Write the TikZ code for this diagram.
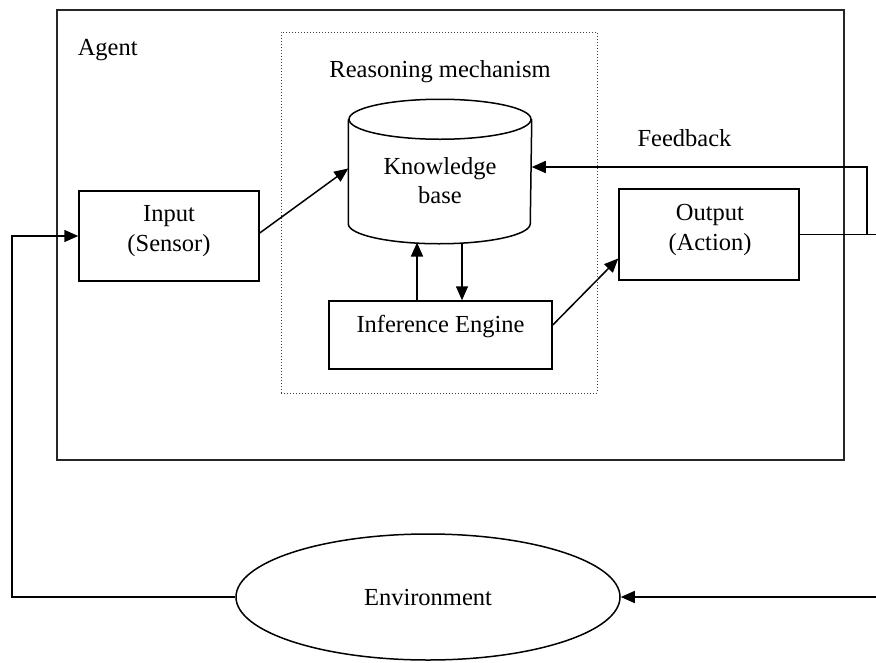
\documentclass[tikz,border=0pt]{standalone}
\usepackage{fontspec}
\setmainfont{Liberation Serif}
\usetikzlibrary{arrows.meta,shapes.geometric}
\begin{document}
\begin{tikzpicture}[x=1pt,y=-1pt,line width=1.5pt,
  >={Triangle[length=14pt,width=12pt]},
  box/.style={draw,rectangle,inner sep=0pt},
  txt/.style={font=\fontsize{24.5}{29.5}\selectfont,align=center,inner sep=0pt},
  frame/.style={draw=black!85,line width=2.6pt,rectangle,inner sep=0pt},
  dotbox/.style={draw=black!75,dotted,line width=1pt,rectangle,inner sep=0pt}]
\useasboundingbox (0,0) rectangle (876,662);

% agent frame and its label
\node[frame,minimum width=787pt,minimum height=450pt] (agent) at (450.5,235) {};
\node[txt,anchor=west] (agentlbl) at (77,50) {Agent};

% reasoning mechanism (dotted boundary)
\node[dotbox,minimum width=316pt,minimum height=361pt] (reason) at (439,212.5) {};
\node[txt] (reasonlbl) at (440,72) {Reasoning mechanism};

% knowledge base drawn as a cylinder around the node body
\node[inner sep=0pt,minimum width=182pt,minimum height=103pt] (kb) at (440,171.5) {};
\draw (kb.north) ellipse [x radius=91pt,y radius=20pt];
\draw (kb.north west) -- (kb.south west)
  arc [start angle=180,end angle=360,x radius=91pt,y radius=20pt] -- (kb.north east);
\node[txt] (kbtext) at (440,180.5) {Knowledge\\base};

% input, output and inference engine
\node[box,minimum width=180pt,minimum height=90pt] (input) at (169,236) {};
\node[txt] (inputtext) at (169,231) {Input\\(Sensor)};
\node[box,minimum width=180pt,minimum height=91pt] (output) at (709,234.5) {};
\node[txt] (outputtext) at (710,230) {Output\\(Action)};
\node[box,minimum width=223pt,minimum height=68pt] (infer) at (440.5,335) {};
\node[txt] (infertext) at (440.5,327) {Inference Engine};

% environment
\node[draw,ellipse,txt,minimum width=384pt,minimum height=126pt] (env) at (428,597) {Environment};

\node[txt] (fblbl) at (684.5,138) {Feedback};

% helper points for the connectors
\coordinate (fbcol) at (867,167);
\coordinate (rightcol) at (878,0);
\coordinate (leftcol) at (12,0);
\coordinate (kbup) at (417,242.5);
\coordinate (kbdown) at (462,242.5);

% connectors
\draw[->] ([yshift=3pt]input.east) -- ([yshift=3pt]kb.west);
\draw[->] (infer.north -| kbup) -- (kbup);
\draw[->] (kbdown) -- (infer.north -| kbdown);
\draw[->] ([yshift=10pt]infer.east) -- ([yshift=-24pt]output.west);
\draw[->] (output.east) -| (fbcol) -- (fbcol -| kb.east);
\draw[->] (output.east) -- (output.east -| rightcol) |- (env.east);
\draw[->] (env.west) -| (leftcol |- input.west) -- (input.west);
\end{tikzpicture}
\end{document}
